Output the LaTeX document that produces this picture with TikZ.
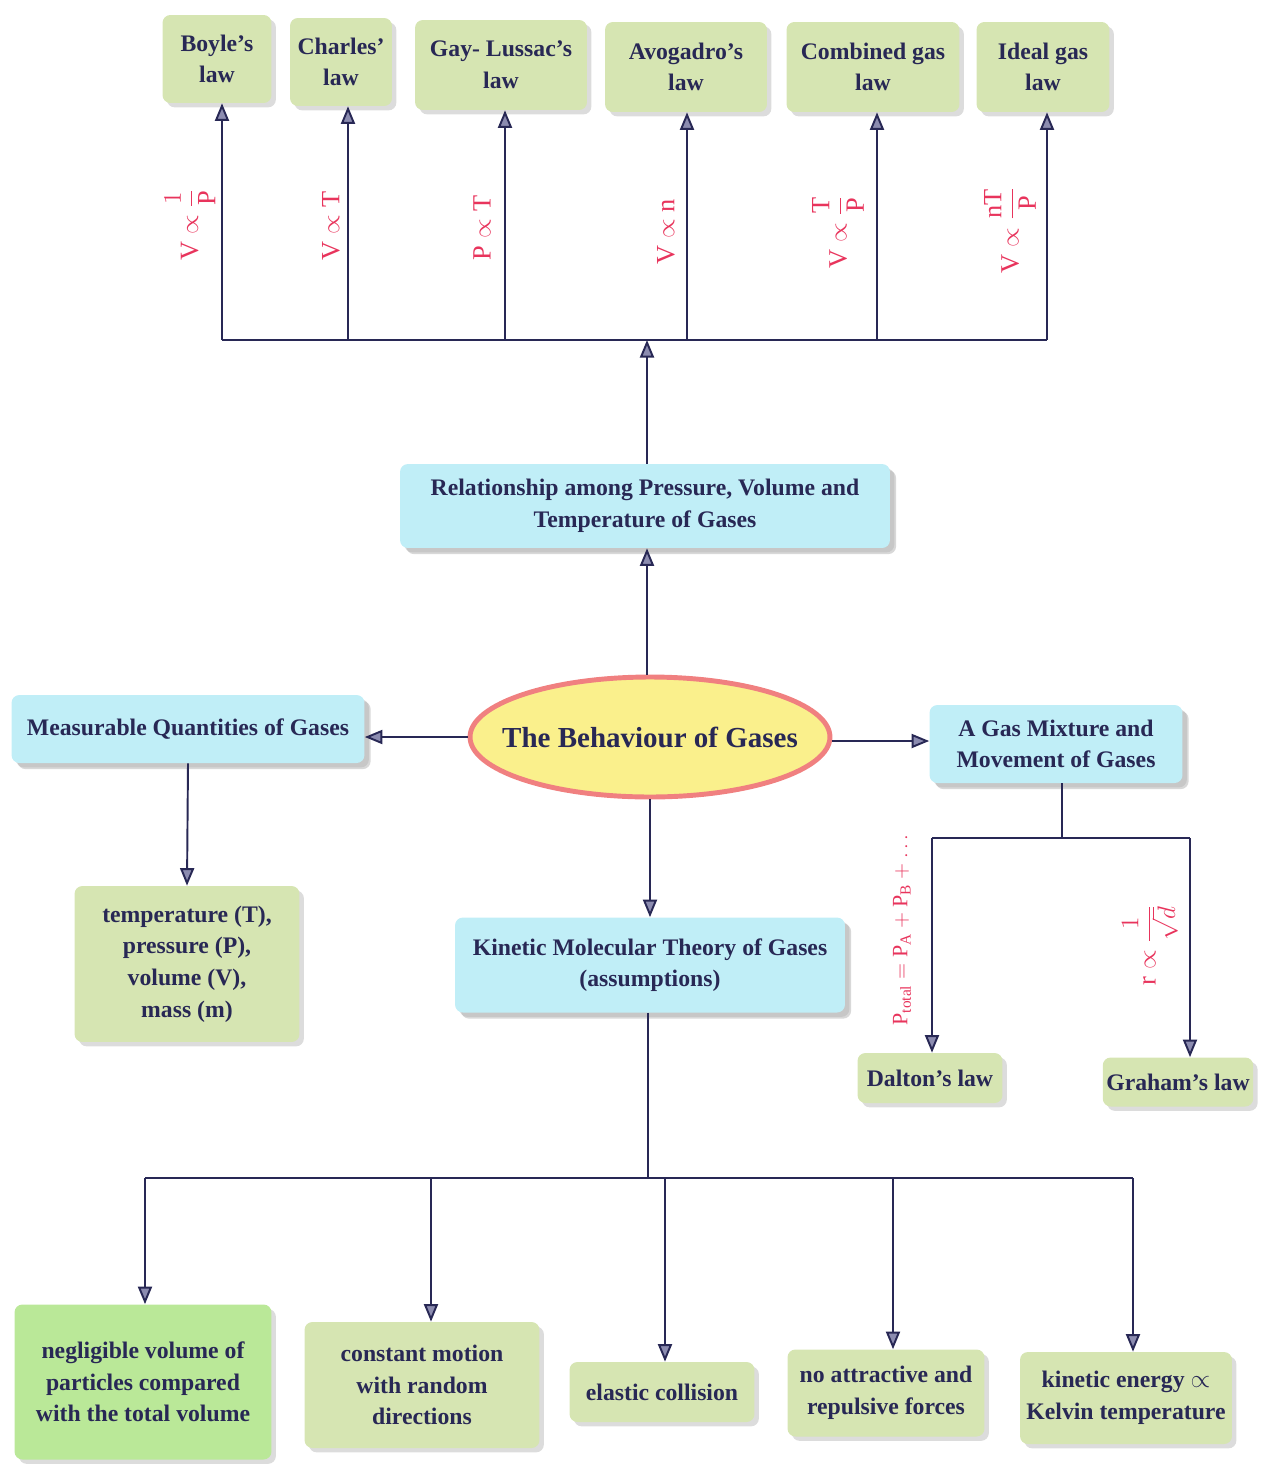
\documentclass[tikz,border=0pt]{standalone}
\usepackage{fontspec}
\setmainfont{Liberation Serif}
\usepackage{tikz}
\usetikzlibrary{shadows}
\usetikzlibrary{positioning}
\usetikzlibrary{arrows.meta,shapes.geometric}
\usetikzlibrary{calc}

\definecolor{navy}{RGB}{40,40,85}
\definecolor{relred}{RGB}{232,52,92}
\definecolor{lawgreen}{RGB}{214,229,178}
\definecolor{leafgreen}{RGB}{186,232,152}
\definecolor{topicblue}{RGB}{192,238,247}
\definecolor{coreyellow}{RGB}{250,240,140}
\definecolor{corered}{RGB}{240,128,128}
\definecolor{tipgray}{RGB}{140,140,176}

\tikzset{
  lawbox/.style={fill=lawgreen, rounded corners=4.5pt, align=center,
    text=navy, inner sep=2pt,
    font=\bfseries\fontsize{13.5}{18}\selectfont,
    drop shadow={shadow xshift=2.5pt, shadow yshift=-2.5pt, fill=gray!55}},
  topicbox/.style={lawbox, fill=topicblue,
    drop shadow={shadow xshift=3.5pt, shadow yshift=-3.5pt, fill=gray!60}},
  link/.style={draw=navy, line width=1.1pt},
  arr/.style={link, -{Triangle[length=10pt, width=8pt, fill=tipgray]}},
  rel/.style={text=relred, rotate=90, font=\fontsize{15}{17}\selectfont}
}

\begin{document}
\begin{tikzpicture}[x=0.02cm, y=-0.02cm]
\useasboundingbox (0,0) rectangle (1264,1464);

% the laws on top
\node[lawbox, minimum width=2.18cm, minimum height=1.76cm] (boyle) at (217,59) {Boyle's\\law};
\node[lawbox, minimum width=2.04cm, minimum height=1.76cm] (charles) at (341,62) {Charles'\\law};
\node[lawbox, minimum width=3.44cm, minimum height=1.8cm] (gaylussac) at (501,65) {Gay- Lussac's\\law};
\node[lawbox, minimum width=3.24cm, minimum height=1.8cm] (avogadro) at (686,67) {Avogadro's\\law};
\node[lawbox, minimum width=3.46cm, minimum height=1.8cm] (combined) at (873,67) {Combined gas\\law};
\node[lawbox, minimum width=2.66cm, minimum height=1.8cm] (ideal) at (1043,67) {Ideal gas\\law};

% bus under the laws
\coordinate (b1) at (222,340);
\coordinate (b2) at (348,340);
\coordinate (b3) at (505,340);
\coordinate (b4) at (687,340);
\coordinate (b5) at (877,340);
\coordinate (b6) at (1047,340);
\coordinate (bmid) at (647,340);
\draw[link] (b1) -- (b6);
\draw[arr] (b1) -- (b1 |- boyle.south);
\draw[arr] (b2) -- (b2 |- charles.south);
\draw[arr] (b3) -- (b3 |- gaylussac.south);
\draw[arr] (b4) -- (b4 |- avogadro.south);
\draw[arr] (b5) -- (b5 |- combined.south);
\draw[arr] (b6) -- (b6 |- ideal.south);

% relations
\node[rel] (r1) at (190,225) {$\displaystyle \mathrm{V} \propto \frac{1}{\mathrm{P}}$};
\node[rel] (r2) at (331,226) {$\mathrm{V} \propto \mathrm{T}$};
\node[rel] (r3) at (482,228) {$\mathrm{P} \propto \mathrm{T}$};
\node[rel] (r4) at (666,232) {$\mathrm{V} \propto \mathrm{n}$};
\node[rel] (r5) at (838,232) {$\displaystyle \mathrm{V} \propto \frac{\mathrm{T}}{\mathrm{P}}$};
\node[rel] (r6) at (1010,230) {$\displaystyle \mathrm{V} \propto \frac{\mathrm{nT}}{\mathrm{P}}$};

% centre
\node[topicbox, minimum width=9.8cm, minimum height=1.68cm] (relation) at (645,506)
  {Relationship among Pressure, Volume and\\Temperature of Gases};
\node[ellipse, draw=corered, line width=2.8pt, fill=coreyellow,
  minimum width=7.2cm, minimum height=2.4cm] (core) at (650,737) {};
\node[text=navy, font=\bfseries\fontsize{16.5}{20}\selectfont] (coretext) at (core) {The Behaviour of Gases};
\node[topicbox, minimum width=7.06cm, minimum height=1.36cm] (measure) at (188,729)
  {Measurable Quantities of Gases};
\node[topicbox, minimum width=5.06cm, minimum height=1.56cm] (mixture) at (1056,744)
  {A Gas Mixture and\\Movement of Gases};
\node[topicbox, minimum width=7.8cm, minimum height=1.9cm] (kinetic) at (650,965)
  {Kinetic Molecular Theory of Gases\\(assumptions)};

\draw[arr] (core.north -| bmid) -- (relation.south -| bmid);
\draw[arr] (relation.north -| bmid) -- (bmid);
\draw[arr] (core.west) -- (measure.east |- core.west);
\draw[arr] ($(core.east)+(0,4)$) -- (mixture.west |- {$(core.east)+(0,4)$});
\draw[arr] (core.south -| kinetic) -- (kinetic.north);

% measurable quantities
\node[lawbox, minimum width=4.5cm, minimum height=3.12cm] (quantity) at (187,964)
  {temperature (T),\\pressure (P),\\volume (V),\\mass (m)};
\draw[arr] (measure.south) -- (quantity.north);

% mixture of gases
\node[lawbox, minimum width=2.9cm, minimum height=1cm] (dalton) at (930,1078) {Dalton's law};
\node[lawbox, minimum width=2.94cm, minimum height=0.98cm] (graham) at (1178,1082) {Graham's law};
\coordinate (msplit) at (1062,838);
\coordinate (m1) at (932,838);
\coordinate (m2) at (1190,838);
\draw[link] (mixture.south -| msplit) -- (msplit);
\draw[link] (m1) -- (m2);
\draw[arr] (m1) -- (m1 |- dalton.north);
\draw[arr] (m2) -- (m2 |- graham.north);
\node[rel, font=\fontsize{12.5}{14}\selectfont] (rdalton) at (902,930)
  {$\mathrm{P}_{\mathrm{total}} = \mathrm{P}_{\mathrm{A}} + \mathrm{P}_{\mathrm{B}} + \ldots$};
\node[rel] (rgraham) at (1150,945) {$\displaystyle \mathrm{r} \propto \frac{1}{\sqrt{d}}$};

% assumptions
\node[lawbox, fill=leafgreen, minimum width=5.14cm, minimum height=3.1cm] (volume) at (143,1382)
  {negligible volume of\\particles compared\\with the total volume};
\node[lawbox, minimum width=4.7cm, minimum height=2.52cm] (motion) at (422,1385)
  {constant motion\\with random\\directions};
\node[lawbox, minimum width=3.7cm, minimum height=1.2cm] (elastic) at (662,1392)
  {elastic collision};
\node[lawbox, minimum width=3.94cm, minimum height=1.74cm] (force) at (886,1393)
  {no attractive and\\repulsive forces};
\node[lawbox, minimum width=4.24cm, minimum height=1.84cm] (energy) at (1126,1398)
  {kinetic energy $\propto$\\Kelvin temperature};

\coordinate (ksplit) at (648,1178);
\coordinate (k1) at (145,1178);
\coordinate (k2) at (431,1178);
\coordinate (k3) at (665,1178);
\coordinate (k4) at (893,1178);
\coordinate (k5) at (1133,1178);
\draw[link] (kinetic.south -| ksplit) -- (ksplit);
\draw[link] (k1) -- (k5);
\draw[arr] (k1) -- (k1 |- volume.north);
\draw[arr] (k2) -- (k2 |- motion.north);
\draw[arr] (k3) -- (k3 |- elastic.north);
\draw[arr] (k4) -- (k4 |- force.north);
\draw[arr] (k5) -- (k5 |- energy.north);

\end{tikzpicture}
\end{document}
